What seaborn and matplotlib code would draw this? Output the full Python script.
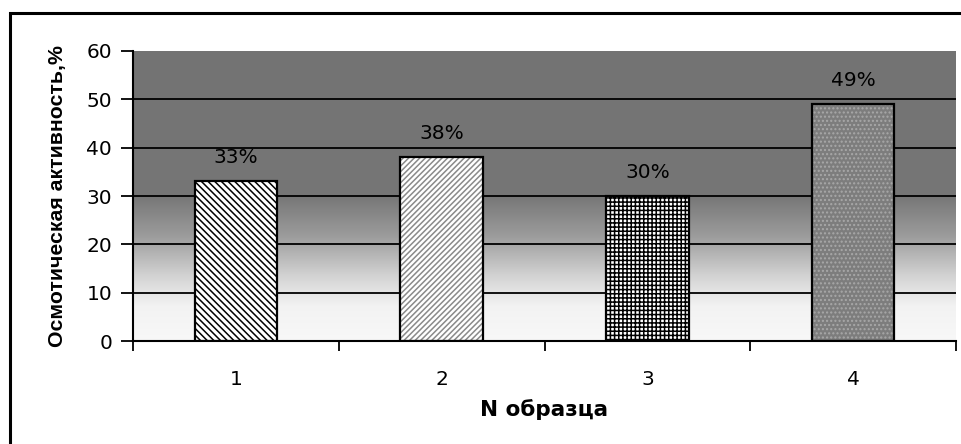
import numpy as np
import pandas as pd
import matplotlib
matplotlib.use("Agg")
import matplotlib.pyplot as plt
from matplotlib.colors import LinearSegmentedColormap
from matplotlib.patches import Rectangle
import seaborn as sns

# Osmotic activity per sample
samples = ["1", "2", "3", "4"]
activity = [33, 38, 30, 49]
value_labels = ["33%", "38%", "30%", "49%"]
y_ticks = [0, 10, 20, 30, 40, 50, 60]

sns.set_theme(style="white")
plt.rcParams["font.family"] = ["DejaVu Sans"]
plt.rcParams["hatch.linewidth"] = 1.1
for key in ["text.color", "axes.labelcolor", "xtick.color", "ytick.color",
            "xtick.labelcolor", "ytick.labelcolor"]:
    plt.rcParams[key] = "black"

W, H, DPI = 961, 444, 100
fig = plt.figure(figsize=(W / DPI, H / DPI), dpi=DPI)
ax = fig.add_axes([133 / W, 1 - 341 / H, (956 - 133) / W, (341 - 51) / H])

# Plot-area background: white at the bottom fading into dark gray
bg = LinearSegmentedColormap.from_list(
    "bg",
    [(0.0, "#f8f8f8"), (0.12, "#f2f2f2"), (0.22, "#d4d4d4"),
     (0.36, "#9c9c9c"), (0.5, "#767676"), (1.0, "#737373")],
)
grad = np.linspace(0, 1, 256).reshape(-1, 1)
ax.imshow(grad, cmap=bg, aspect="auto", origin="lower",
          extent=(-0.5, 3.5, 0, 60), zorder=0, interpolation="bilinear")

df = pd.DataFrame({"sample": samples, "activity": activity})
sns.barplot(data=df, x="sample", y="activity", width=0.4, ax=ax,
            color="white", edgecolor="black", linewidth=1.5, zorder=3,
            errorbar=None)

styles = [
    dict(face="white", hatch="\\\\\\\\\\", edge="black", lw=1.1),
    dict(face="white", hatch="//////", edge="#8a8a8a", lw=1.1),
    dict(face="white", hatch="++++", edge="black", lw=1.1),
    dict(face="#7d7d7d", hatch="....", edge="#a8a8a8", lw=1.0),
]
for patch, st in zip(ax.patches, styles):
    patch.set_facecolor(st["face"])
    patch.set_hatch(st["hatch"])
    patch.set_edgecolor(st["edge"])
    patch.set_linewidth(0)
    if hasattr(patch, "set_hatch_linewidth"):
        patch.set_hatch_linewidth(st["lw"])

# Black outlines drawn over the hatched bars
sns.barplot(data=df, x="sample", y="activity", width=0.4, ax=ax,
            fill=False, edgecolor="black", linewidth=1.6, zorder=4,
            errorbar=None)

for patch, txt in zip(ax.patches[:4], value_labels):
    ax.text(patch.get_x() + patch.get_width() / 2, patch.get_height() + 3.0,
            txt, ha="center", va="bottom", fontsize=14.5, color="black",
            zorder=5)

ax.set_xlim(-0.5, 3.5)
ax.set_ylim(0, 60)
ax.set_yticks(y_ticks)
ax.set_yticklabels([str(t) for t in y_ticks], fontsize=14.5)
ax.yaxis.grid(True, color="black", linewidth=1.3)
ax.set_axisbelow(False)
gridlines = ax.get_ygridlines()
for gl in gridlines:
    gl.set_zorder(1)
gridlines[-1].set_visible(False)

# Category separators as x ticks, labels in the middle of each category
ax.set_xticks([-0.5, 0.5, 1.5, 2.5, 3.5])
ax.set_xticklabels([])
ax.set_xticks([0, 1, 2, 3], minor=True)
ax.set_xticklabels(samples, minor=True, fontsize=14.5)
ax.tick_params(axis="x", which="minor", length=0, pad=21)
ax.tick_params(axis="x", which="major", length=7, width=1.3, color="black",
               direction="out", bottom=True)
ax.tick_params(axis="y", length=9, width=1.3, color="black",
               direction="out", left=True, pad=6)

for side in ["top", "right"]:
    ax.spines[side].set_visible(False)
for side in ["left", "bottom"]:
    ax.spines[side].set_color("black")
    ax.spines[side].set_linewidth(1.5)
    ax.spines[side].set_zorder(6)

ax.set_xlabel("N образца", fontsize=15.5, fontweight="bold", labelpad=7,
              color="black")
ax.set_ylabel("Осмотическая активность,%", fontsize=15.3, fontweight="bold",
              labelpad=14, family=["Liberation Sans", "DejaVu Sans"],
              color="black")

# Chart frame
fig.patches.append(Rectangle((10 / W, -0.1), 1.2, 1 - 13 / H + 0.1,
                             transform=fig.transFigure, fill=False,
                             edgecolor="black", linewidth=2.2))

fig.savefig("out.png", dpi=DPI, facecolor="white")
